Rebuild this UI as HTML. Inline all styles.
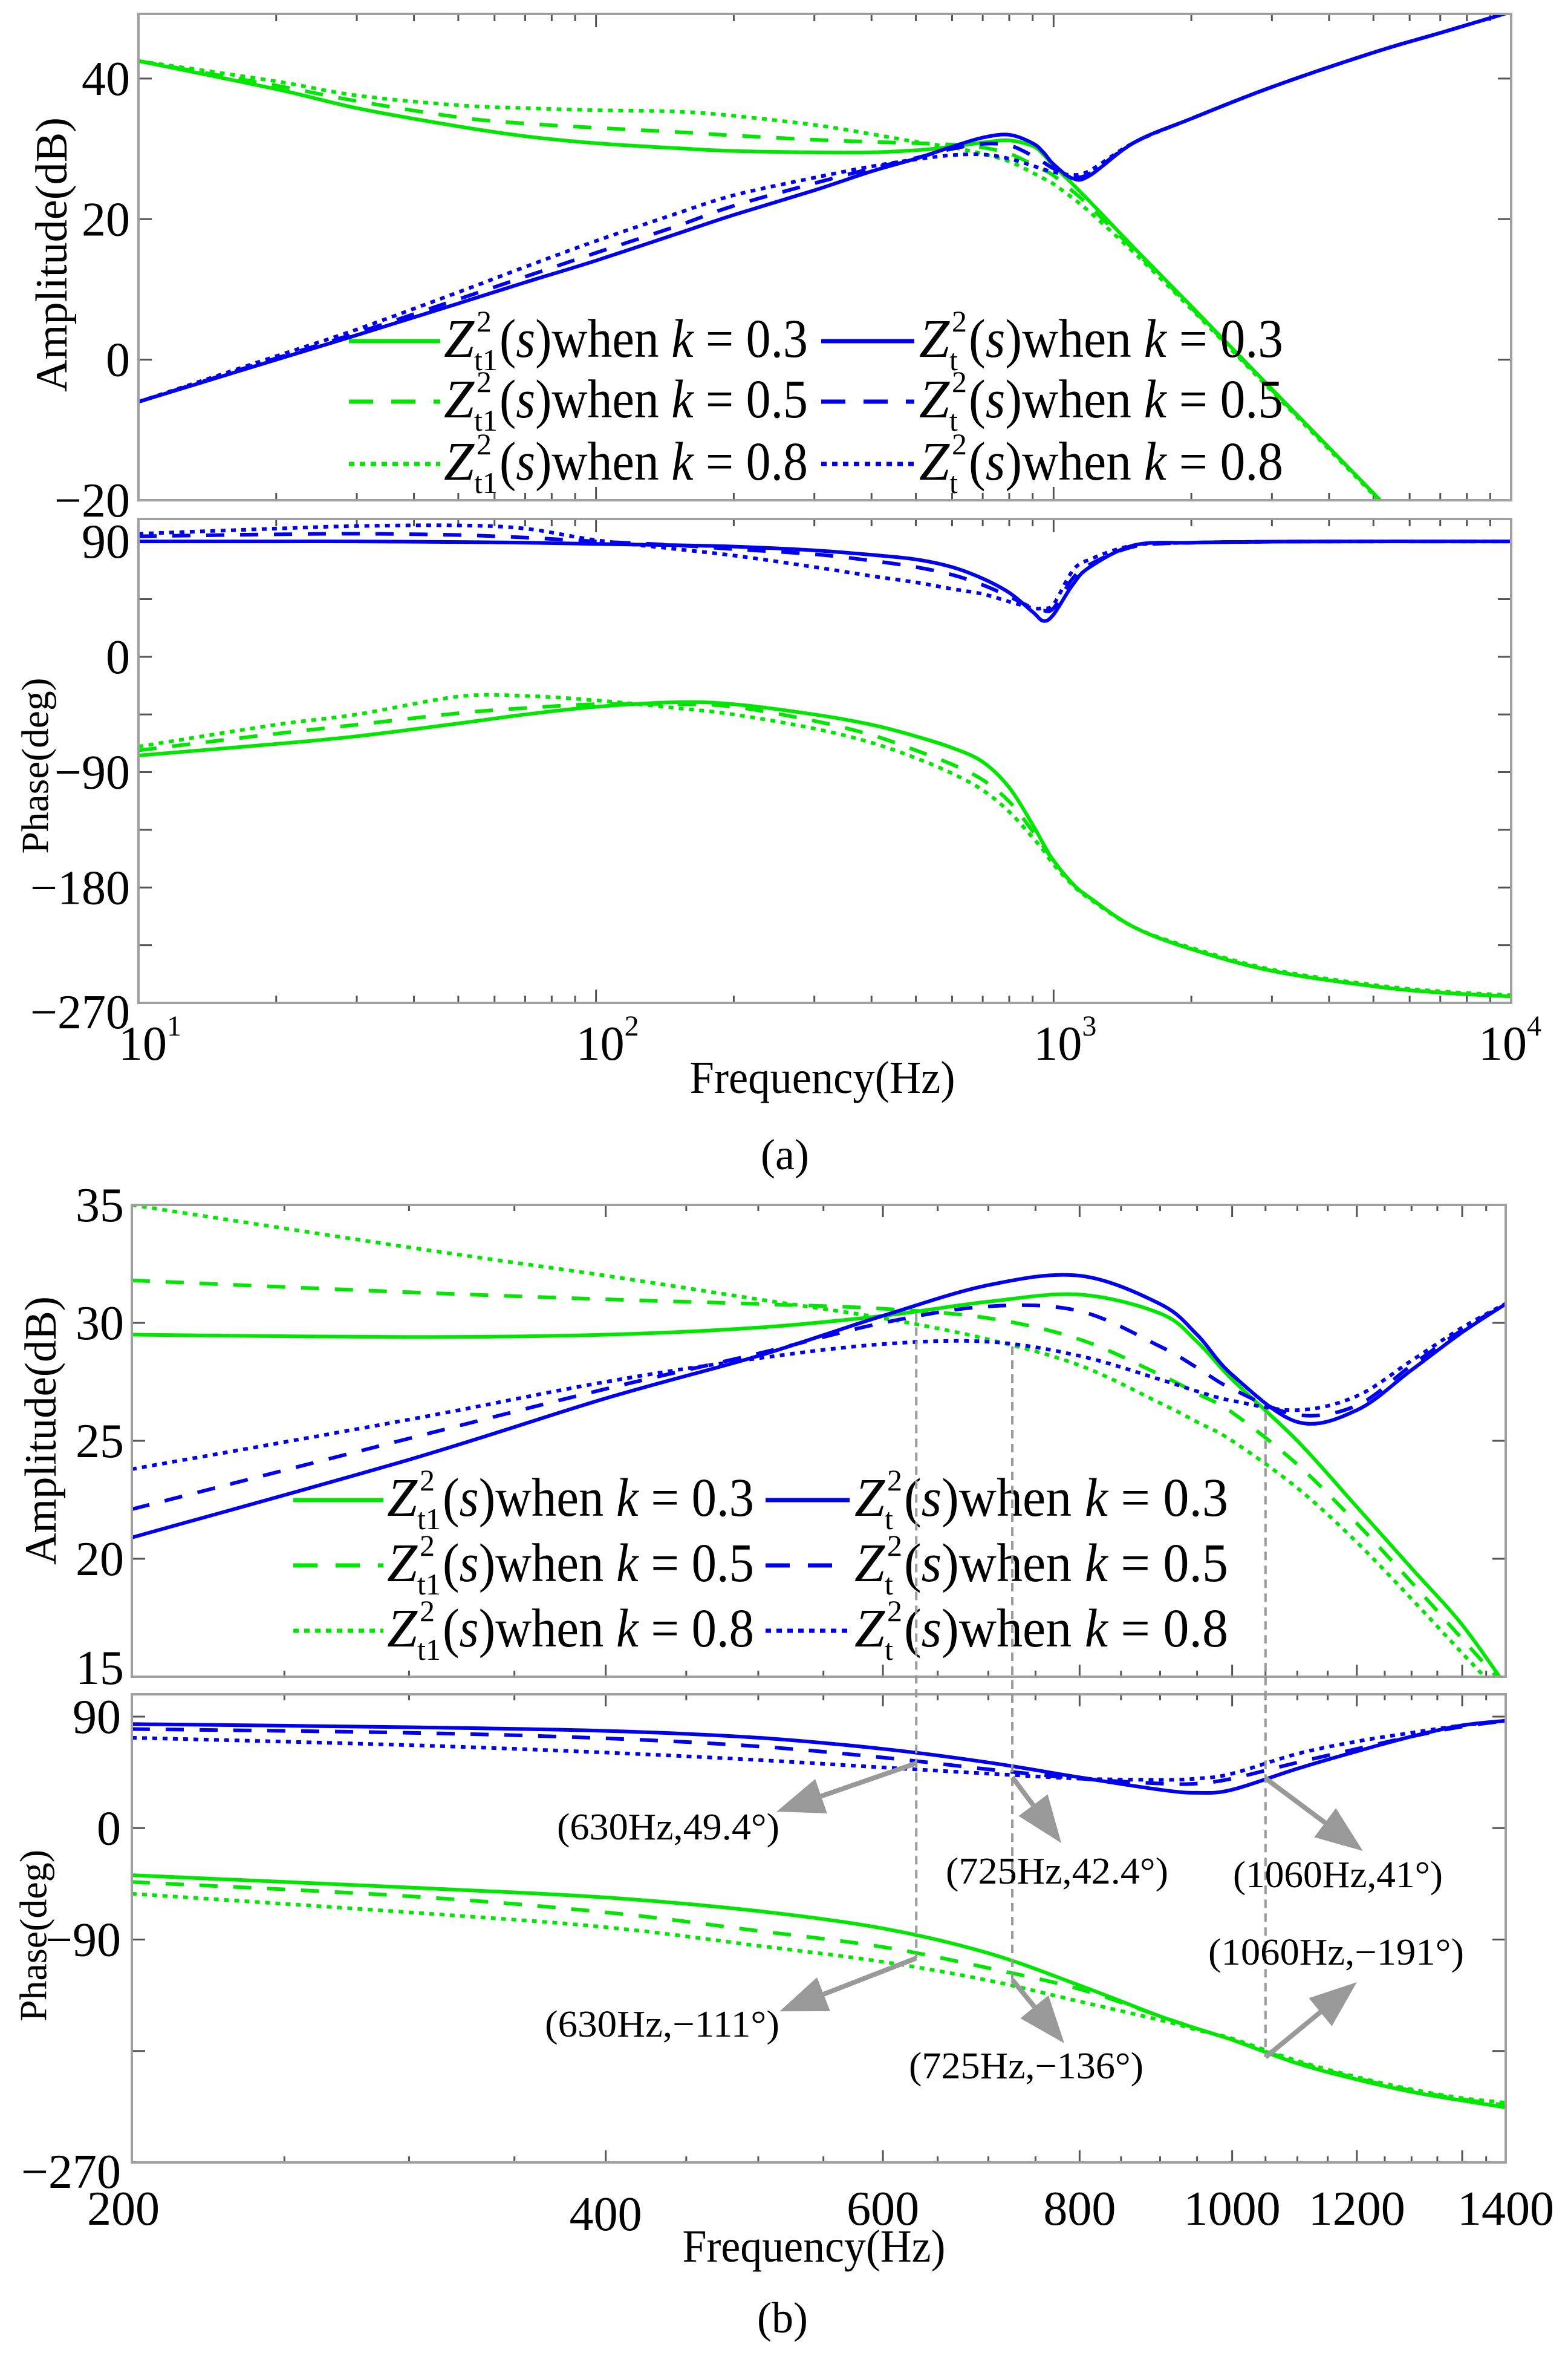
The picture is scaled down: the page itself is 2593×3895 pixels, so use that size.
<!DOCTYPE html>
<html>
<head>
<meta charset="utf-8">
<style>
  html,body{margin:0;padding:0;background:#fff;}
  svg{display:block;}
  text{font-family:"Liberation Serif","Times New Roman",serif;fill:#000;}
</style>
</head>
<body>
<svg id="fig" xmlns="http://www.w3.org/2000/svg" width="2593" height="3895" viewBox="0 0 2593 3895" font-family="Liberation Serif, serif">
  <rect x="0" y="0" width="2593" height="3895" fill="#fff"/>
  <defs>
    <clipPath id="clipAA"><rect x="229" y="23" width="2270" height="804"/></clipPath>
    <clipPath id="clipAP"><rect x="229" y="858" width="2270" height="800"/></clipPath>
    <clipPath id="clipBA"><rect x="218" y="1992" width="2272" height="780"/></clipPath>
    <clipPath id="clipBP"><rect x="218" y="2801" width="2272" height="774"/></clipPath>
  </defs>
</svg>
<script>
// ---------- Panel (a) data ----------
const freqA = [10,20,30,50,70,100,150,200,300,400,500,600,700,800,900,950,1000,1100,1200,1500,2000,3000,5000,7000,10000];
const ampA_Zt1_k03 = [42.5,38.5,35.8,33.2,31.8,30.8,30.1,29.7,29.5,29.5,29.8,30.3,30.9,31.2,30.4,29.2,27.6,25.0,22.5,15.9,7.6,-4.2,-19,-29,-40];
const ampA_Zt1_k05 = [42.5,39.0,36.8,34.5,33.6,33.0,32.4,31.9,31.3,31.0,30.8,30.6,30.2,29.3,27.8,27.0,26.2,24.0,21.8,15.6,7.4,-4.3,-19,-29,-40];
const ampA_Zt1_k08 = [42.5,39.6,37.6,36.2,35.8,35.5,35.3,34.7,33.4,32.1,31.0,30.2,29.3,28.2,26.6,25.8,25.0,23.0,21.0,15.2,7.2,-4.5,-19.2,-29,-40];
const ampA_Zt_k03 = [-6,0,3.5,8,11,14.1,17.9,20.6,24.1,26.8,28.6,30.3,31.6,32.0,30.8,29.5,27.8,25.8,26.2,30.9,34.3,38.8,43.7,46.5,49.5];
const ampA_Zt_k05 = [-6,0.2,3.8,8.6,11.8,15.2,19.0,21.9,25.1,27.2,28.7,30.0,30.7,30.5,29.0,28.1,27.2,26.1,26.5,30.9,34.3,38.8,43.7,46.5,49.5];
const ampA_Zt_k08 = [-6,0.5,4.3,9.6,13.2,16.9,20.8,23.4,25.9,27.5,28.5,29.1,29.2,28.6,27.6,27.1,26.7,26.3,26.9,30.9,34.3,38.8,43.7,46.5,49.5];
const phA_Zt_k03 = [90,90,90,89.5,89,88,87,86,83,79.5,76,70,61,50,35,28,33,56,70,87,89,89.8,90,90,90];
const phA_Zt_k05 = [94,95.5,96,95,93,90,87,84,80,75,70,64,56,47,38,36,38,61,72,86,89,89.8,90,90,90];
const phA_Zt_k08 = [96,100,102,102.5,100,91,84,79,70,63,58,53,49,43,38,38,41,67,76,87,89,89.8,90,90,90];
const phA_Zt1_k03 = [-77,-68,-62,-52,-45,-39,-35.5,-37,-45,-53,-62,-71,-82,-102,-131,-146,-159,-177,-188,-211,-228,-245,-257,-262,-265];
const phA_Zt1_k05 = [-73,-60,-53,-44,-40,-37,-37,-39,-50,-61,-73,-84,-96,-113,-136,-148,-159,-177,-188,-211,-228,-245,-257,-262,-265];
const phA_Zt1_k08 = [-70,-53,-45,-31,-30.5,-34,-40,-45,-56,-67,-79,-91,-104,-121,-141,-151,-162,-178,-189,-211,-227,-244,-256,-261,-264];
const ampTicksA = [-20,0,20,40];
const phaseTicksA = [-270,-225,-180,-135,-90,-45,0,45,90];
const phaseLabelsA = [-270,-180,-90,0,90];
const decadeExpA = [1,2,3,4];

// ---------- Panel (b) data ----------
const freqB = [200,300,400,500,600,700,800,900,950,1000,1100,1200,1300,1400,1500];
const ampB_Zt1_k03 = [29.5,29.4,29.5,29.8,30.3,30.9,31.2,30.4,29.2,27.6,25.0,22.2,19.6,17.2,14.4];
const ampB_Zt1_k05 = [31.8,31.3,31.0,30.8,30.6,30.2,29.3,27.8,27.0,26.2,24.0,21.5,19.0,16.6,14.4];
const ampB_Zt1_k08 = [35.0,33.2,32.0,31.0,30.2,29.3,28.2,26.6,25.8,25.0,23.0,20.7,18.3,16.0,13.9];
const ampB_Zt_k03 = [20.9,24.2,26.8,28.6,30.3,31.6,32.0,30.8,29.5,27.8,25.8,26.3,28.0,29.6,30.9];
const ampB_Zt_k05 = [22.1,25.1,27.2,28.7,30.0,30.7,30.5,29.0,28.1,27.2,26.1,26.5,28.2,29.7,30.9];
const ampB_Zt_k08 = [23.8,25.9,27.5,28.5,29.1,29.2,28.6,27.6,27.1,26.7,26.3,26.9,28.4,29.8,30.9];
const phB_Zt_k03 = [84,81.5,78.5,73,64,53,41,31,28.5,31,48,62,74,83,87];
const phB_Zt_k05 = [80,77,72.5,66,57,47.5,40,36,36,40,53,64,74,82,87];
const phB_Zt_k08 = [73,67,61,55,49,44,40,39,40,44,60,70,77,83,87];
const phB_Zt1_k03 = [-38,-48,-56,-67,-81,-101,-127,-152,-162,-171,-190,-203,-213,-220,-226];
const phB_Zt1_k05 = [-43.5,-55,-68,-83,-96,-113,-130,-152,-162,-171,-189,-202,-212,-219,-224];
const phB_Zt1_k08 = [-53,-68,-80,-95,-108,-123,-140,-155,-163,-170,-188,-201,-211,-218,-222];
const ampTicksB = [15,20,25,30,35];
const phaseTicksB = [-270,-180,-90,0,90];
const phaseLabelsB = [-270,-90,0,90];
const freqLabelsB = [200,400,600,800,1000,1200,1400];
const markFreq = [630,725,1050];
const markAmp = [30.4,29.0,26.2];
const markBluePhase = [52.4,41.2,40.2];
const markGreenPhase = [-105,-122.5,-185];
const markBlueLabels = ["(630Hz,49.4°)","(725Hz,42.4°)","(1060Hz,41°)"];
const markGreenLabels = ["(630Hz,−111°)","(725Hz,−136°)","(1060Hz,−191°)"];

// ---------- helpers ----------
const NS = 'http://www.w3.org/2000/svg';
const svg = document.getElementById('fig');
const GREEN = '#00e600', BLUE = '#0000f0', FRAME = '#a0a0a0', TICK = '#555';
const DASH = {solid:null, dashed:'30 26', dotted:'8 9'};
const FONT = 'Liberation Serif, serif';

function mk(tag, attrs, parent){
  const e = document.createElementNS(NS, tag);
  for (const k in attrs) e.setAttribute(k, attrs[k]);
  (parent || svg).appendChild(e);
  return e;
}
function logAxis(fmin, fmax, x0, x1){
  const a = Math.log10(fmin), b = Math.log10(fmax);
  return f => x0 + (Math.log10(f) - a) / (b - a) * (x1 - x0);
}
function linAxis(vmin, vmax, y0, y1){
  return v => y1 - (v - vmin) / (vmax - vmin) * (y1 - y0);
}
function spline(pts){
  let d = 'M' + pts[0][0].toFixed(1) + ',' + pts[0][1].toFixed(1);
  for (let i = 0; i < pts.length - 1; i++){
    const p0 = pts[i-1] || pts[i], p1 = pts[i], p2 = pts[i+1], p3 = pts[i+2] || pts[i+1];
    const c1x = p1[0] + (p2[0]-p0[0])/6, c1y = p1[1] + (p2[1]-p0[1])/6;
    const c2x = p2[0] - (p3[0]-p1[0])/6, c2y = p2[1] - (p3[1]-p1[1])/6;
    d += ' C' + c1x.toFixed(1)+','+c1y.toFixed(1)+' '+c2x.toFixed(1)+','+c2y.toFixed(1)+' '+p2[0].toFixed(1)+','+p2[1].toFixed(1);
  }
  return d;
}
function drawSeries(freqs, vals, X, Y, color, style, clip, name){
  const pts = freqs.map((f,i) => [X(f), Y(vals[i])]);
  const p = mk('path', {d: spline(pts), fill:'none', stroke:color, 'stroke-width':6, 'clip-path':'url(#'+clip+')', 'stroke-linejoin':'round'});
  if (DASH[style]) p.setAttribute('stroke-dasharray', DASH[style]);
  
  
  return p;
}
function label(x, y, str, size, anchor, name, extra){
  const t = mk('text', {x:x, y:y, 'font-size':size, 'text-anchor':anchor || 'middle', 'font-family':FONT});
  if (extra) for (const k in extra) t.setAttribute(k, extra[k]);
  t.textContent = str;
  
  
  return t;
}
function frame(x0,y0,x1,y1,name){
  const r = mk('rect', {x:x0, y:y0, width:x1-x0, height:y1-y0, fill:'none', stroke:FRAME, 'stroke-width':4});
  
  
}
function tick(x1,y1,x2,y2,name){
  const l = mk('line', {x1:x1, y1:y1, x2:x2, y2:y2, stroke:TICK, 'stroke-width':3});
  
  
}
function yTitle(cx, cy, str, size, len, name){
  const t = mk('text', {x:cx, y:cy, 'font-size':size, 'text-anchor':'middle', 'dominant-baseline':'central', 'font-family':FONT,
    transform:'rotate(-90 '+cx+' '+cy+')', textLength:len, lengthAdjust:'spacingAndGlyphs'});
  t.textContent = str;
  
  
}
function legendEntry(lx0, lx1, zx, base, color, style, sub, kval, endX, name){
  const l = mk('line', {x1:lx0, y1:base-26, x2:lx1, y2:base-26, stroke:color, 'stroke-width':7});
  if (DASH[style]) l.setAttribute('stroke-dasharray', style==='dashed' ? '40 30' : '9 9');
  
  
  const z = mk('text', {x:zx, y:base, 'font-size':90, 'font-style':'italic', 'font-family':FONT});
  z.textContent = 'Z';
  
  
  const sp = mk('text', {x:zx+54, y:base-42, 'font-size':50, 'font-family':FONT});
  sp.textContent = '2';
  
  
  const sb = mk('text', {x:zx+50, y:base+22, 'font-size':50, 'font-family':FONT});
  sb.textContent = sub;
  
  
  const sx = zx + (sub.length > 1 ? 92 : 82);
  const t = mk('text', {x:sx, y:base, 'font-size':90, 'font-family':FONT, textLength:endX - sx, lengthAdjust:'spacingAndGlyphs'});
  t.innerHTML = '(<tspan font-style="italic">s</tspan>)when <tspan font-style="italic">k</tspan> = ' + kval;
  
  
}

// ================= Panel (a) =================
const XA = logAxis(10, 10000, 229, 2499);
const YAA = linAxis(-20, 49.2, 23, 827);
const YAP = linAxis(-270, 107.5, 858, 1658);

[[23,827],[858,1658]].forEach(([t,b]) => {
  for (let d = 1; d <= 3; d++){
    for (let k = 1; k <= 9; k++){
      const f = k * Math.pow(10, d);
      const x = XA(f), len = k === 1 ? 22 : 12;
      tick(x, b, x, b-len, 'x-tick-a');
      tick(x, t, x, t+len, 'x-tick-a-top');
    }
  }
});
ampTicksA.forEach(v => {
  const y = YAA(v);
  tick(229, y, 251, y, 'y-tick-amp-a');
  tick(2499, y, 2477, y, 'y-tick-amp-a-right');
  label(215, y + 27, (v < 0 ? '−' + (-v) : '' + v), 80, 'end', 'y-tick-label-amp-a');
});
phaseTicksA.forEach(v => {
  const y = YAP(v);
  tick(229, y, 251, y, 'y-tick-phase-a');
  tick(2499, y, 2477, y, 'y-tick-phase-a-right');
});
phaseLabelsA.forEach(v => {
  const y = YAP(v) + (v === -270 ? 42 : 27);
  label(215, y, (v < 0 ? '−' + (-v) : '' + v), 80, 'end', 'y-tick-label-phase-a');
});
decadeExpA.forEach(e => {
  const x = XA(Math.pow(10, e));
  const cx = e === 4 ? x - 14 : x + 7;
  label(cx, 1752, '10', 80, 'middle', 'x-tick-label-a');
  label(cx + 40, 1712, '' + e, 48, 'start', 'x-tick-exponent-a');
});

drawSeries(freqA, ampA_Zt1_k03, XA, YAA, GREEN, 'solid', 'clipAA', 'amp-a-zt1-k03');
drawSeries(freqA, ampA_Zt1_k05, XA, YAA, GREEN, 'dashed', 'clipAA', 'amp-a-zt1-k05');
drawSeries(freqA, ampA_Zt1_k08, XA, YAA, GREEN, 'dotted', 'clipAA', 'amp-a-zt1-k08');
drawSeries(freqA, ampA_Zt_k03, XA, YAA, BLUE, 'solid', 'clipAA', 'amp-a-zt-k03');
drawSeries(freqA, ampA_Zt_k05, XA, YAA, BLUE, 'dashed', 'clipAA', 'amp-a-zt-k05');
drawSeries(freqA, ampA_Zt_k08, XA, YAA, BLUE, 'dotted', 'clipAA', 'amp-a-zt-k08');
drawSeries(freqA, phA_Zt_k03, XA, YAP, BLUE, 'solid', 'clipAP', 'phase-a-zt-k03');
drawSeries(freqA, phA_Zt_k05, XA, YAP, BLUE, 'dashed', 'clipAP', 'phase-a-zt-k05');
drawSeries(freqA, phA_Zt_k08, XA, YAP, BLUE, 'dotted', 'clipAP', 'phase-a-zt-k08');
drawSeries(freqA, phA_Zt1_k03, XA, YAP, GREEN, 'solid', 'clipAP', 'phase-a-zt1-k03');
drawSeries(freqA, phA_Zt1_k05, XA, YAP, GREEN, 'dashed', 'clipAP', 'phase-a-zt1-k05');
drawSeries(freqA, phA_Zt1_k08, XA, YAP, GREEN, 'dotted', 'clipAP', 'phase-a-zt1-k08');

frame(229, 23, 2499, 827, 'amp-a-frame');
frame(229, 858, 2499, 1658, 'phase-a-frame');

const legRowsA = [590, 690, 793];
const styles = ['solid','dashed','dotted'];
const kvals = ['0.3','0.5','0.8'];
legRowsA.forEach((b,i) => {
  legendEntry(577, 728, 734, b, GREEN, styles[i], 't1', kvals[i], 1336, 'legend-a-zt1-k' + kvals[i].replace('.',''));
  legendEntry(1358, 1512, 1520, b, BLUE, styles[i], 't', kvals[i], 2122, 'legend-a-zt-k' + kvals[i].replace('.',''));
});

yTitle(86, 421, 'Amplitude(dB)', 74, 454, 'y-axis-title-amp-a');
yTitle(58, 1266, 'Phase(deg)', 64, 291, 'y-axis-title-phase-a');
label(1360, 1807, 'Frequency(Hz)', 76, 'middle', 'x-axis-title-a', {textLength:439, lengthAdjust:'spacingAndGlyphs'});
label(1298, 1933, '(a)', 72, 'middle', 'caption-a');

// ================= Panel (b) =================
const XB = logAxis(200, 1492, 218, 2490);
const YBA = linAxis(15, 35, 1992, 2772);
const YBP = linAxis(-270, 108.1, 2801, 3575);

[[1992,2772],[2801,3575]].forEach(([t,b]) => {
  for (let f = 200; f <= 1450; f += 50){
    const x = XB(f), len = (f % 200 === 0) ? 20 : 10;
    tick(x, b, x, b-len, 'x-tick-b');
    tick(x, t, x, t+len, 'x-tick-b-top');
  }
});
ampTicksB.forEach(v => {
  const y = YBA(v);
  tick(218, y, 240, y, 'y-tick-amp-b');
  tick(2490, y, 2468, y, 'y-tick-amp-b-right');
  label(205, y + (v === 15 ? 12 : 27), '' + v, 80, 'end', 'y-tick-label-amp-b');
});
phaseTicksB.forEach(v => {
  const y = YBP(v);
  tick(218, y, 240, y, 'y-tick-phase-b');
  tick(2490, y, 2468, y, 'y-tick-phase-b-right');
});
phaseLabelsB.forEach(v => {
  const y = YBP(v) + (v === -270 ? 42 : 27);
  label(200, y, (v < 0 ? '−' + (-v) : '' + v), 80, 'end', 'y-tick-label-phase-b');
});
freqLabelsB.forEach((f,i) => {
  let x = XB(f);
  if (i === 0) x -= 14;
  if (i === freqLabelsB.length - 1) x = 2490;
  label(x, f === 400 ? 3687 : 3678, '' + f, 80, 'middle', 'x-tick-label-b');
});

drawSeries(freqB, ampB_Zt1_k03, XB, YBA, GREEN, 'solid', 'clipBA', 'amp-b-zt1-k03');
drawSeries(freqB, ampB_Zt1_k05, XB, YBA, GREEN, 'dashed', 'clipBA', 'amp-b-zt1-k05');
drawSeries(freqB, ampB_Zt1_k08, XB, YBA, GREEN, 'dotted', 'clipBA', 'amp-b-zt1-k08');
drawSeries(freqB, ampB_Zt_k03, XB, YBA, BLUE, 'solid', 'clipBA', 'amp-b-zt-k03');
drawSeries(freqB, ampB_Zt_k05, XB, YBA, BLUE, 'dashed', 'clipBA', 'amp-b-zt-k05');
drawSeries(freqB, ampB_Zt_k08, XB, YBA, BLUE, 'dotted', 'clipBA', 'amp-b-zt-k08');
drawSeries(freqB, phB_Zt_k03, XB, YBP, BLUE, 'solid', 'clipBP', 'phase-b-zt-k03');
drawSeries(freqB, phB_Zt_k05, XB, YBP, BLUE, 'dashed', 'clipBP', 'phase-b-zt-k05');
drawSeries(freqB, phB_Zt_k08, XB, YBP, BLUE, 'dotted', 'clipBP', 'phase-b-zt-k08');
drawSeries(freqB, phB_Zt1_k03, XB, YBP, GREEN, 'solid', 'clipBP', 'phase-b-zt1-k03');
drawSeries(freqB, phB_Zt1_k05, XB, YBP, GREEN, 'dashed', 'clipBP', 'phase-b-zt1-k05');
drawSeries(freqB, phB_Zt1_k08, XB, YBP, GREEN, 'dotted', 'clipBP', 'phase-b-zt1-k08');

frame(218, 1992, 2490, 2772, 'amp-b-frame');
frame(218, 2801, 2490, 3575, 'phase-b-frame');

const legRowsB = [2506, 2614, 2722];
legRowsB.forEach((b,i) => {
  legendEntry(485, 634, 640, b, GREEN, styles[i], 't1', kvals[i], 1247, 'legend-b-zt1-k' + kvals[i].replace('.',''));
  legendEntry(1266, 1405, 1413, b, BLUE, styles[i], 't', kvals[i], 2031, 'legend-b-zt-k' + kvals[i].replace('.',''));
});

const ANN = '#999999';
function arrow(x1,y1,x2,y2,name){
  const dx = x2-x1, dy = y2-y1, L = Math.hypot(dx,dy), ux = dx/L, uy = dy/L;
  const hl = 78, hw = 30;
  const bx = x2 - ux*hl, by = y2 - uy*hl;
  const sh = mk('line', {x1:x1, y1:y1, x2:bx, y2:by, stroke:ANN, 'stroke-width':8});
  
  
  const hd = mk('polygon', {points: x2+','+y2+' '+(bx - uy*hw)+','+(by + ux*hw)+' '+(bx + uy*hw)+','+(by - ux*hw), fill:ANN});
  
  
}
const blueArrowOff = [[-231,80],[81,109],[161,120]];
const greenArrowOff = [[-226,88],[86,105],[151,-124]];
const blueLabelPos = [[921,3041,368],[1564,3114,368],[2039,3120,347]];
const greenLabelPos = [[901,3367,388],[1503,3436,388],[1998,3248,423]];
markFreq.forEach((f,i) => {
  const x = XB(f);
  const g = mk('line', {x1:x, y1:YBA(markAmp[i]), x2:x, y2:YBP(markGreenPhase[i]), stroke:ANN, 'stroke-width':4, 'stroke-dasharray':'14 9'});
  
  
  const yb = YBP(markBluePhase[i]), yg = YBP(markGreenPhase[i]);
  arrow(x, yb, x + blueArrowOff[i][0], yb + blueArrowOff[i][1], 'arrow-blue-' + f);
  arrow(x, yg, x + greenArrowOff[i][0], yg + greenArrowOff[i][1], 'arrow-green-' + f);
  const bl = blueLabelPos[i], gl = greenLabelPos[i];
  label(bl[0], bl[1], markBlueLabels[i], 62, 'start', 'annotation-blue-' + f, {textLength:bl[2], lengthAdjust:'spacingAndGlyphs'});
  label(gl[0], gl[1], markGreenLabels[i], 62, 'start', 'annotation-green-' + f, {textLength:gl[2], lengthAdjust:'spacingAndGlyphs'});
});

yTitle(68, 2365, 'Amplitude(dB)', 74, 444, 'y-axis-title-amp-b');
yTitle(55, 3200, 'Phase(deg)', 64, 284, 'y-axis-title-phase-b');
label(1346, 3739, 'Frequency(Hz)', 76, 'middle', 'x-axis-title-b', {textLength:435, lengthAdjust:'spacingAndGlyphs'});
label(1294, 3856, '(b)', 72, 'middle', 'caption-b');
</script>
</body>
</html>
